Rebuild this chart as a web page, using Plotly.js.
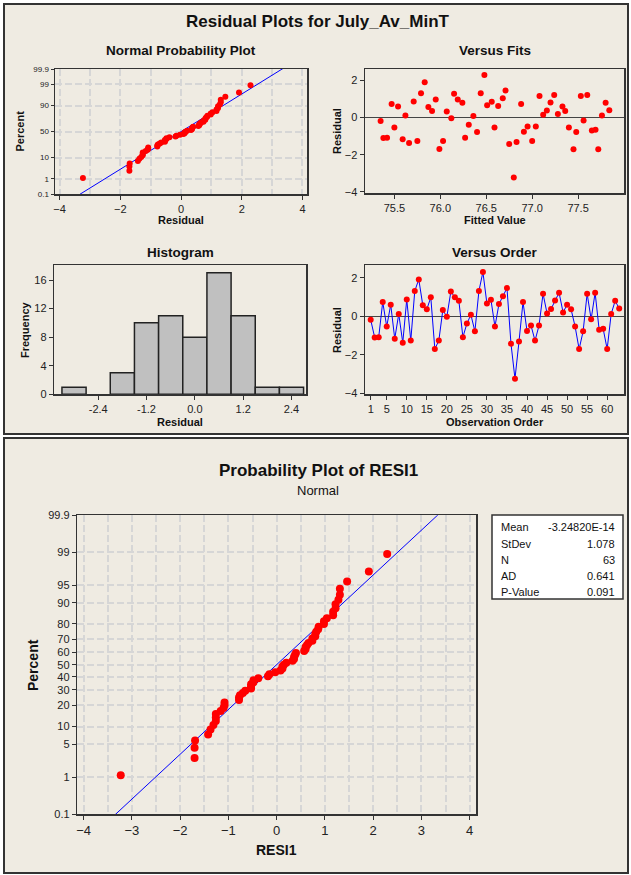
<!DOCTYPE html>
<html><head><meta charset="utf-8">
<script src="https://cdn.plot.ly/plotly-3.0.1.min.js"></script>
<style>html,body{margin:0;padding:0;background:#ffffff;} #chart{width:631px;height:875px;}</style>
</head><body><div id="chart"></div>
<script>
// ---------------- DATA ----------------
const residuals = [-0.18,-1.10,-1.08,0.74,-0.53,0.60,-1.16,0.12,-1.37,0.87,
  -1.26,1.31,1.91,0.57,0.36,0.98,-1.69,-1.26,0.33,-0.03,
  1.28,0.98,0.80,-1.08,-0.38,0.08,-0.78,1.31,2.29,0.66,
  0.86,-0.53,0.63,1.04,1.46,-1.42,-3.23,-1.31,0.74,-0.76,
  -0.48,-1.26,-0.48,1.17,0.15,0.38,0.82,1.22,0.20,0.60,
  0.36,-0.53,-1.70,-0.78,1.17,-0.15,1.22,-0.70,-0.65,-1.70,
  0.12,0.80,0.40];
const fittedValues = [75.35,75.38,75.42,75.47,75.50,75.54,75.59,75.62,75.66,75.71,
  75.75,75.79,75.83,75.87,75.91,75.95,75.99,76.03,76.07,76.12,
  76.15,76.19,76.24,76.27,76.31,76.36,76.40,76.44,76.48,76.51,
  76.56,76.59,76.63,76.68,76.71,76.75,76.80,76.83,76.88,76.91,
  76.95,77.00,77.04,77.08,77.12,77.16,77.20,77.24,77.28,77.33,
  77.36,77.40,77.45,77.48,77.53,77.56,77.60,77.65,77.69,77.72,
  77.76,77.80,77.84];
const observationOrder = [1,2,3,4,5,6,7,8,9,10,11,12,13,14,15,16,17,18,19,20,
  21,22,23,24,25,26,27,28,29,30,31,32,33,34,35,36,37,38,39,40,
  41,42,43,44,45,46,47,48,49,50,51,52,53,54,55,56,57,58,59,60,61,62,63];
const probTicksTop = [0.1,1,10,50,90,99,99.9];
const probTicksBottom = [0.1,1,5,10,20,30,40,50,60,70,80,90,95,99,99.9];
const fitsTickVals = [75.5,76.0,76.5,77.0,77.5];
const fitsTickText = ['75.5','76.0','76.5','77.0','77.5'];
const histTickVals = [-2.4,-1.2,0,1.2,2.4];
const histTickText = ['-2.4','-1.2','0.0','1.2','2.4'];
const orderTickVals = [1,5,10,15,20,25,30,35,40,45,50,55,60];
const statLabels = ['Mean','StDev','N','AD','P-Value'];
const statValues = ['-3.24820E-14','1.078','63','0.641','0.091'];
const statMean = -3.24820e-14;
const statStDev = 1.078;

// ---------------- helpers ----------------
function norminv(p){
  const a=[-3.969683028665376e+01,2.209460984245205e+02,-2.759285104469687e+02,1.383577518672690e+02,-3.066479806614716e+01,2.506628277459239e+00];
  const b=[-5.447609879822406e+01,1.615858368580409e+02,-1.556989798598866e+02,6.680131188771972e+01,-1.328068155288572e+01];
  const c=[-7.784894002430293e-03,-3.223964580411365e-01,-2.400758277161838e+00,-2.549671010115902e+00,4.374664141464968e+00,2.938163982698783e+00];
  const d=[7.784695709041462e-03,3.224671290700398e-01,2.445134137142996e+00,3.754408661907416e+00];
  const pl=0.02425, ph=1-pl; let q,r;
  if(p<pl){q=Math.sqrt(-2*Math.log(p));return (((((c[0]*q+c[1])*q+c[2])*q+c[3])*q+c[4])*q+c[5])/((((d[0]*q+d[1])*q+d[2])*q+d[3])*q+1);}
  if(p<=ph){q=p-0.5;r=q*q;return (((((a[0]*r+a[1])*r+a[2])*r+a[3])*r+a[4])*r+a[5])*q/(((((b[0]*r+b[1])*r+b[2])*r+b[3])*r+b[4])*r+1);}
  q=Math.sqrt(-2*Math.log(1-p));return -(((((c[0]*q+c[1])*q+c[2])*q+c[3])*q+c[4])*q+c[5])/((((d[0]*q+d[1])*q+d[2])*q+d[3])*q+1);
}
const n = residuals.length;
const sortedRes = residuals.slice().sort((u,v)=>u-v);
const probZ = sortedRes.map((_,i)=>norminv((i+1-0.3)/(n+0.4)));   // median-rank plotting positions
const zLo = norminv(0.001), zHi = norminv(0.999);
const lineZ = [norminv(0.0005), norminv(0.9995)];
const lineX = lineZ.map(z=>statMean+statStDev*z);

const W=631,H=875;
const px = x=>x/W, py = y=>1-y/H;
const FONT = 'Liberation Sans, Arial, sans-serif';
const RED = '#FF0000', BLUE = '#0000FF';
const GRID = {showgrid:true, gridcolor:'#D6D6D6', gridwidth:2, griddash:'7px,3px'};

function ax(extra){
  return Object.assign({showline:true, linecolor:'#333', linewidth:1.5, mirror:true,
    ticks:'outside', ticklen:4, tickwidth:1, tickcolor:'#333', zeroline:false, showgrid:false,
    tickfont:{size:11,color:'#222',family:FONT}, fixedrange:true, tickmode:'array'}, extra);
}

const traces = [
  // Normal probability plot (top)
  {type:'scatter', mode:'lines', x:lineX, y:lineZ, xaxis:'x', yaxis:'y', line:{color:BLUE,width:1}, hoverinfo:'skip'},
  {type:'scatter', mode:'markers', x:sortedRes, y:probZ, xaxis:'x', yaxis:'y', marker:{color:RED,size:6}},
  // Versus fits
  {type:'scatter', mode:'markers', x:fittedValues, y:residuals, xaxis:'x2', yaxis:'y2', marker:{color:RED,size:6}},
  // Histogram
  {type:'histogram', x:residuals, xaxis:'x3', yaxis:'y3', xbins:{start:-3.3,end:2.7,size:0.6}, autobinx:false,
    marker:{color:'#C0C0C0', line:{color:'#222',width:1.5}}},
  // Versus order
  {type:'scatter', mode:'lines+markers', x:observationOrder, y:residuals, xaxis:'x4', yaxis:'y4',
    line:{color:BLUE,width:1}, marker:{color:RED,size:6}},
  // Probability plot (bottom)
  {type:'scatter', mode:'lines', x:lineX, y:lineZ, xaxis:'x5', yaxis:'y5', line:{color:BLUE,width:1}, hoverinfo:'skip'},
  {type:'scatter', mode:'markers', x:sortedRes, y:probZ, xaxis:'x5', yaxis:'y5', marker:{color:RED,size:8}}
];

const annotations = [];
function ann(text,x,y,size,opts){
  annotations.push(Object.assign({text:text, xref:'paper', yref:'paper', x:px(x), y:py(y),
    xanchor:'center', yanchor:'middle', showarrow:false, font:{family:FONT,size:size,color:'#111'}}, opts||{}));
}
ann('<b>Residual Plots for July_Av_MinT</b>',318,22,17);
ann('<b>Normal Probability Plot</b>',181,50,13.5);
ann('<b>Versus Fits</b>',494.5,50,13.5);
ann('<b>Histogram</b>',180,252,13.5);
ann('<b>Versus Order</b>',494.5,252,13.5);
ann('<b>Percent</b>',20,131.5,11,{textangle:-90});
ann('<b>Residual</b>',181,219.5,11);
ann('<b>Residual</b>',337,131,11,{textangle:-90});
ann('<b>Fitted Value</b>',494.5,219.5,11);
ann('<b>Frequency</b>',25,330,11,{textangle:-90});
ann('<b>Residual</b>',180,421.5,11);
ann('<b>Residual</b>',337,330,11,{textangle:-90});
ann('<b>Observation Order</b>',494.5,421.5,11);
ann('<b>Probability Plot of RESI1</b>',318,470,17);
ann('Normal',318,490,13);
ann('<b>Percent</b>',33,665,14,{textangle:-90});
ann('<b>RESI1</b>',276.5,850,14);
const rowY = [527,543.5,560,576,592];
statLabels.forEach((t,i)=>ann(t,499,rowY[i],11,{xanchor:'left'}));
statValues.forEach((t,i)=>ann(t,617,rowY[i],11,{xanchor:'right'}));

const shapes = [
  {type:'rect', xref:'paper', yref:'paper', x0:px(4), x1:px(628), y0:py(434), y1:py(4), fillcolor:'#EFEBE2', line:{color:'#333',width:2}, layer:'below'},
  {type:'rect', xref:'paper', yref:'paper', x0:px(4), x1:px(628), y0:py(873), y1:py(438), fillcolor:'#EFEBE2', line:{color:'#333',width:2}, layer:'below'},
  {type:'rect', xref:'paper', yref:'paper', x0:px(492), x1:px(623), y0:py(599), y1:py(515), fillcolor:'#FFFFFF', line:{color:'#333',width:1.5}, layer:'above'}
];

const layout = {
  width:W, height:H, margin:{l:0,r:0,t:0,b:0}, showlegend:false,
  paper_bgcolor:'#FFFFFF', plot_bgcolor:'#FFFFFF', font:{family:FONT,color:'#222'},
  bargap:0,
  xaxis: ax(Object.assign({domain:[px(55),px(307)], range:[-4.15,4.15], anchor:'y',
    tickvals:[-4,-2,0,2,4], minor:Object.assign({tickvals:[-3,-1,1,3], ticks:''},GRID)},GRID)),
  yaxis: ax(Object.assign({domain:[py(194.3),py(69)], range:[zLo,zHi], anchor:'x',
    tickvals:probTicksTop.map(p=>norminv(p/100)), ticktext:probTicksTop.map(String), tickfont:{size:8,color:'#222',family:FONT}, ticklen:3},GRID)),
  xaxis2: ax({domain:[px(365),px(624)], range:[75.18,78.0], anchor:'y2', tickvals:fitsTickVals, ticktext:fitsTickText}),
  yaxis2: ax({domain:[py(193.3),py(69)], range:[-4.08,2.62], anchor:'x2', tickvals:[-4,-2,0,2],
    zeroline:true, zerolinecolor:'#444', zerolinewidth:1.5}),
  xaxis3: ax({domain:[px(54.3),px(306)], range:[-3.49,2.76], anchor:'y3', tickvals:histTickVals, ticktext:histTickText}),
  yaxis3: ax({domain:[py(394.3),py(265.3)], range:[0,18.06], anchor:'x3', tickvals:[0,4,8,12,16]}),
  xaxis4: ax({domain:[px(365),px(624)], range:[-0.42,64.2], anchor:'y4', tickvals:orderTickVals}),
  yaxis4: ax({domain:[py(394.3),py(265.3)], range:[-4.04,2.64], anchor:'x4', tickvals:[-4,-2,0,2],
    zeroline:true, zerolinecolor:'#444', zerolinewidth:1.5}),
  xaxis5: ax(Object.assign({domain:[px(77.3),px(476)], range:[-4.13,4.13], anchor:'y5',
    tickvals:[-4,-3,-2,-1,0,1,2,3,4], tickfont:{size:13,color:'#222',family:FONT},
    minor:Object.assign({tickvals:[-3.5,-2.5,-1.5,-0.5,0.5,1.5,2.5,3.5], ticks:''},GRID)},GRID)),
  yaxis5: ax(Object.assign({domain:[py(814),py(515.3)], range:[zLo,zHi], anchor:'x5',
    tickvals:probTicksBottom.map(p=>norminv(p/100)), ticktext:probTicksBottom.map(String), tickfont:{size:11,color:'#222',family:FONT}},GRID)),
  annotations: annotations,
  shapes: shapes
};

Plotly.newPlot('chart', traces, layout, {displayModeBar:false, staticPlot:true});
</script>
</body></html>
